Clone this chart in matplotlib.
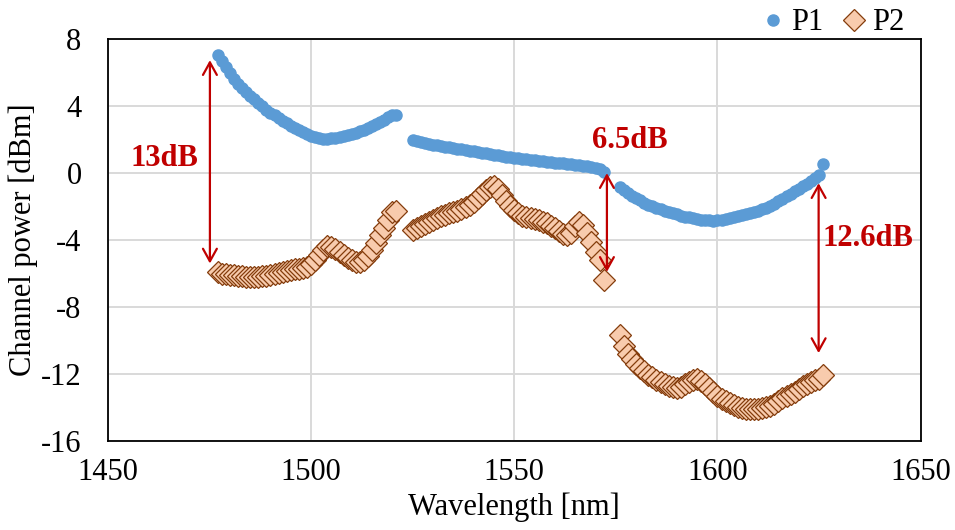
import numpy as np
import matplotlib
matplotlib.use("Agg")
import matplotlib.pyplot as plt

plt.rcParams['font.family'] = ['Liberation Serif', 'DejaVu Serif']
plt.rcParams['axes.unicode_minus'] = False

# wavelength grids of the three measured bands [nm]
wl_band1 = np.arange(1477, 1522)
wl_band2 = np.arange(1525, 1573)
wl_band3 = np.arange(1576, 1627)

# P1 channel power [dBm]
p1_band1 = [7.05, 6.7, 6.35, 6.0, 5.65, 5.35, 5.1, 4.85, 4.6, 4.4,
            4.2, 4.0, 3.8, 3.62, 3.45, 3.28, 3.12, 2.98, 2.84, 2.7,
            2.57, 2.45, 2.33, 2.23, 2.15, 2.08, 2.05, 2.05, 2.08, 2.1,
            2.15, 2.2, 2.27, 2.35, 2.42, 2.5, 2.6, 2.72, 2.83, 2.95,
            3.07, 3.2, 3.33, 3.45, 3.5]
p1_band2 = [1.95, 1.9, 1.86, 1.8, 1.76, 1.7, 1.67, 1.62, 1.59, 1.54,
            1.5, 1.47, 1.42, 1.39, 1.34, 1.3, 1.27, 1.22, 1.19, 1.14,
            1.1, 1.07, 1.02, 0.99, 0.94, 0.9, 0.88, 0.84, 0.82, 0.78,
            0.76, 0.72, 0.7, 0.67, 0.64, 0.62, 0.6, 0.58, 0.55, 0.52,
            0.5, 0.47, 0.44, 0.41, 0.37, 0.3, 0.22, 0.08]
p1_band3 = [-0.83, -1.0, -1.2, -1.35, -1.5, -1.63, -1.76, -1.88, -1.98, -2.07,
            -2.16, -2.25, -2.33, -2.4, -2.47, -2.54, -2.6, -2.65, -2.7, -2.74,
            -2.77, -2.8, -2.82, -2.83, -2.82, -2.8, -2.75, -2.68, -2.62, -2.56,
            -2.5, -2.45, -2.4, -2.32, -2.24, -2.15, -2.06, -1.95, -1.82, -1.68,
            -1.53, -1.38, -1.24, -1.08, -0.94, -0.79, -0.62, -0.45, -0.3, -0.1,
            0.55]

# P2 channel power [dBm]
p2_band1 = [-5.9, -6.0, -6.05, -6.08, -6.1, -6.15, -6.17, -6.19, -6.2, -6.2,
            -6.19, -6.17, -6.12, -6.06, -6.0, -5.94, -5.88, -5.83, -5.78, -5.74,
            -5.7, -5.65, -5.58, -5.45, -5.2, -4.92, -4.6, -4.38, -4.4, -4.55,
            -4.72, -4.9, -5.05, -5.18, -5.28, -5.3, -5.2, -4.98, -4.6, -4.15,
            -3.7, -3.25, -2.8, -2.35, -2.25]
p2_band2 = [-3.4, -3.28, -3.15, -3.02, -2.9, -2.78, -2.68, -2.59, -2.5, -2.4,
            -2.32, -2.25, -2.15, -2.05, -1.9, -1.7, -1.5, -1.25, -1.0, -0.82,
            -0.75, -0.95, -1.3, -1.65, -1.95, -2.2, -2.4, -2.55, -2.63, -2.7,
            -2.76, -2.82, -2.9, -3.0, -3.15, -3.3, -3.45, -3.62, -3.7, -3.55,
            -3.15, -2.9, -3.1, -3.6, -4.1, -4.7, -5.2, -6.4]
p2_band3 = [-9.66, -10.3, -10.8, -11.1, -11.4, -11.65, -11.85, -12.05, -12.2, -12.34,
            -12.5, -12.62, -12.72, -12.8, -12.83, -12.75, -12.6, -12.5, -12.38, -12.3,
            -12.42, -12.6, -12.85, -13.1, -13.3, -13.48, -13.62, -13.73, -13.85, -13.95,
            -14.02, -14.08, -14.1, -14.12, -14.1, -14.05, -13.98, -13.9, -13.78, -13.6,
            -13.43, -13.3, -13.17, -13.05, -12.9, -12.74, -12.6, -12.48, -12.38, -12.3,
            -12.05]

# extinction annotations: x, top, bottom, label, label position
arrow_x = [1475.1, 1572.8, 1624.9]
arrow_top = [6.75, 0.0, -0.6]
arrow_bottom = [-5.4, -5.9, -10.75]
gap_labels = ['13dB', '6.5dB', '12.6dB']
label_x = [1464.0, 1578.5, 1637.0]
label_y = [0.9, 1.95, -3.9]

wl = np.concatenate([wl_band1, wl_band2, wl_band3])
p1 = np.array(p1_band1 + p1_band2 + p1_band3)
p2 = np.array(p2_band1 + p2_band2 + p2_band3)

fig = plt.figure(figsize=(9.55, 5.3), dpi=100)
ax = fig.add_axes([0.113, 0.168, 0.851, 0.758])

ax.plot(wl, p1, linestyle='none', marker='o', markersize=8,
        color='#5B9BD5', markeredgecolor='#5B9BD5', label='P1', zorder=3)
ax.plot(wl, p2, linestyle='none', marker='D', markersize=11,
        markerfacecolor='#F8CBAD', markeredgecolor='#843C0C',
        markeredgewidth=0.9, label='P2', zorder=3)

red = '#C00000'
for x, top, bot, lab, tx, ty in zip(arrow_x, arrow_top, arrow_bottom,
                                    gap_labels, label_x, label_y):
    ax.annotate('', xy=(x, top), xytext=(x, bot),
                arrowprops=dict(arrowstyle='<->,head_length=0.45,head_width=0.25',
                                color=red, lw=1.6, mutation_scale=20,
                                shrinkA=0, shrinkB=0), zorder=4)
    ax.text(tx, ty, lab, color=red, fontsize=22, fontweight='bold',
            ha='center', va='center', zorder=5)

ax.set_xlim(1450, 1650)
ax.set_ylim(-16, 8)
ax.set_xticks(np.arange(1450, 1651, 50))
ax.set_yticks(np.arange(-16, 9, 4))
ax.tick_params(length=0, labelsize=22)
ax.tick_params(axis='x', pad=12)
ax.tick_params(axis='y', pad=19)
ax.grid(True, color='#D9D9D9', linewidth=1.4)
ax.set_axisbelow(True)
for sp in ax.spines.values():
    sp.set_color('black')
    sp.set_linewidth(1.3)

ax.set_xlabel('Wavelength [nm]', fontsize=22, labelpad=4)
ax.set_ylabel('Channel power [dBm]', fontsize=22, labelpad=2)

ax.legend(loc='lower right', bbox_to_anchor=(0.98, 1.005), ncol=2,
          frameon=False, fontsize=22, handletextpad=0.1, columnspacing=0.5,
          borderpad=0, borderaxespad=0, handlelength=1.0)

fig.savefig('out.png', dpi=100)
